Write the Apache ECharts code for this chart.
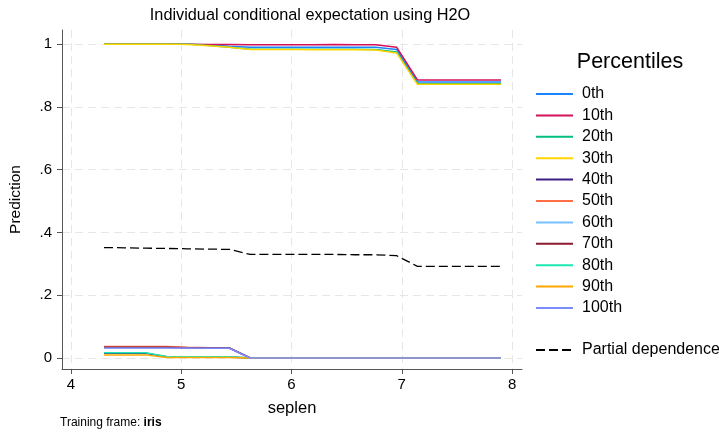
<!DOCTYPE html>
<html>
<head>
<meta charset="utf-8">
<script src="https://cdn.jsdelivr.net/npm/echarts@6/dist/echarts.min.js"></script>
<style>
  html, body { margin: 0; padding: 0; background: #fff; }
  #iceChart { width: 719px; height: 432px; }
</style>
</head>
<body>
<div id="iceChart"></div>
<script>
// grid of seplen values used by the ICE curves
const seplen = [4.3, 4.489, 4.679, 4.868, 5.058, 5.247, 5.437, 5.626, 5.816, 6.005,
  6.195, 6.384, 6.574, 6.763, 6.953, 7.142, 7.332, 7.521, 7.711, 7.9]

const percentileNames = ['0th', '10th', '20th', '30th', '40th', '50th', '60th', '70th', '80th', '90th', '100th']

const p0 = [1, 1, 1, 1, 1, 0.997, 0.993, 0.99, 0.99, 0.99, 0.99, 0.99, 0.99, 0.99, 0.983, 0.879, 0.879, 0.879, 0.879, 0.879]
const p10 = [1, 1, 1, 1, 1, 0.999, 0.999, 0.998, 0.998, 0.998, 0.998, 0.999, 0.998, 0.998, 0.99, 0.886, 0.886, 0.886, 0.886, 0.886]
const p20 = [1, 1, 1, 1, 1, 0.996, 0.99, 0.984, 0.984, 0.984, 0.984, 0.984, 0.984, 0.983, 0.975, 0.874, 0.874, 0.874, 0.874, 0.874]
const p30 = [1, 1, 1, 1, 0.999, 0.995, 0.99, 0.983, 0.983, 0.983, 0.982, 0.982, 0.982, 0.981, 0.972, 0.872, 0.872, 0.872, 0.872, 0.872]
const p40 = [0.015, 0.015, 0.015, 0.004, 0.003, 0.003, 0.003, 0, 0, 0, 0, 0, 0, 0, 0, 0, 0, 0, 0, 0]
const p50 = [0.037, 0.037, 0.037, 0.037, 0.034, 0.033, 0.032, 0, 0, 0, 0, 0, 0, 0, 0, 0, 0, 0, 0, 0]
const p60 = [0.033, 0.033, 0.033, 0.033, 0.033, 0.032, 0.032, 0, 0, 0, 0, 0, 0, 0, 0, 0, 0, 0, 0, 0]
const p70 = [0.034, 0.034, 0.034, 0.034, 0.033, 0.032, 0.032, 0, 0, 0, 0, 0, 0, 0, 0, 0, 0, 0, 0, 0]
const p80 = [0.017, 0.017, 0.017, 0.005, 0.004, 0.004, 0.004, 0, 0, 0, 0, 0, 0, 0, 0, 0, 0, 0, 0, 0]
const p90 = [0.01, 0.01, 0.01, 0.002, 0.002, 0.002, 0.002, 0, 0, 0, 0, 0, 0, 0, 0, 0, 0, 0, 0, 0]
const p100 = [0.032, 0.032, 0.032, 0.032, 0.032, 0.031, 0.031, 0, 0, 0, 0, 0, 0, 0, 0, 0, 0, 0, 0, 0]

const partialDep = [0.352, 0.351, 0.35, 0.349, 0.348, 0.347, 0.346, 0.33, 0.33, 0.33,
  0.33, 0.33, 0.329, 0.329, 0.326, 0.292, 0.292, 0.292, 0.292, 0.292]

const xTicks = [4, 5, 6, 7, 8]
const yTicks = [0, 0.2, 0.4, 0.6, 0.8, 1]

const iceValues = [p0, p10, p20, p30, p40, p50, p60, p70, p80, p90, p100]
const colors = ['#1a85ff', '#d41159', '#00bf7f', '#ffd400', '#3c1f86', '#ff6e47',
  '#78c0ff', '#8b1a2e', '#1ee8b2', '#ffa600', '#7b8cff']

const font = 'Liberation Sans, Arial, sans-serif'

let myChart = echarts.init(document.getElementById('iceChart'))

let series = iceValues.map((vals, i) => ({
  name: percentileNames[i],
  type: 'line',
  symbol: 'none',
  data: vals.map((v, j) => [seplen[j], v]),
  lineStyle: { width: 1.5, color: colors[i] },
  itemStyle: { color: colors[i] },
  z: 3
}))
series.push({
  name: 'Partial dependence',
  type: 'line',
  symbol: 'none',
  data: partialDep.map((v, j) => [seplen[j], v]),
  lineStyle: { width: 1.3, color: '#000', type: [9, 4] },
  itemStyle: { color: '#000' },
  z: 4
})

let gridLine = { show: true, lineStyle: { color: '#e6e6e6', width: 1, type: [8, 5] } }

let options = {
  animation: false,
  title: [
    {
      text: 'Individual conditional expectation using H2O',
      left: 310, top: 8, textAlign: 'center', padding: 0,
      textStyle: { fontFamily: font, fontSize: 16.3, fontWeight: 'normal', color: '#000' }
    },
    {
      text: 'Percentiles',
      left: 630, top: 51, textAlign: 'center', padding: 0,
      textStyle: { fontFamily: font, fontSize: 21.5, fontWeight: 'normal', color: '#000' }
    },
    {
      text: '{a|Training frame: }{b|iris}',
      left: 60, top: 417, padding: 0,
      textStyle: {
        fontWeight: 'normal',
        rich: {
          a: { fontFamily: font, fontSize: 12, color: '#000', fontWeight: 'normal' },
          b: { fontFamily: font, fontSize: 12, color: '#000', fontWeight: 'bold' }
        }
      }
    }
  ],
  legend: [
    {
      data: percentileNames,
      orient: 'vertical',
      left: 535, top: 86, padding: 0,
      itemWidth: 37, itemHeight: 14, itemGap: 5.4,
      itemStyle: { opacity: 0 },
      textStyle: { fontFamily: font, fontSize: 16, color: '#000', padding: [0, 0, 0, 4] }
    },
    {
      data: ['Partial dependence'],
      orient: 'vertical',
      left: 535, top: 342, padding: 0,
      itemWidth: 37, itemHeight: 14,
      itemStyle: { opacity: 0 },
      textStyle: { fontFamily: font, fontSize: 16, color: '#000', padding: [0, 0, 0, 4] }
    }
  ],
  grid: { left: 58, right: 197, top: 30, bottom: 63 },
  xAxis: {
    type: 'value',
    min: 3.919, max: 8.09,
    name: 'seplen',
    nameLocation: 'middle',
    nameGap: 31,
    nameTextStyle: { fontFamily: font, fontSize: 16.5, color: '#000' },
    axisLine: { show: true, onZero: false, lineStyle: { color: '#555', width: 1 } },
    axisTick: { show: true, length: 5, customValues: xTicks, lineStyle: { color: '#555' } },
    axisLabel: { customValues: xTicks, fontFamily: font, fontSize: 15, color: '#000', margin: 8 },
    splitLine: gridLine
  },
  yAxis: {
    type: 'value',
    min: -0.035, max: 1.045,
    name: 'Prediction',
    nameLocation: 'middle',
    nameGap: 38,
    nameTextStyle: { fontFamily: font, fontSize: 15.5, color: '#000' },
    axisLine: { show: true, onZero: false, lineStyle: { color: '#555', width: 1 } },
    axisTick: { show: true, length: 5, customValues: yTicks, lineStyle: { color: '#555' } },
    axisLabel: {
      customValues: yTicks,
      fontFamily: font, fontSize: 15, color: '#000', margin: 10,
      formatter: v => (v === 0 || v === 1) ? String(v) : String(v).replace(/^0/, '')
    },
    splitLine: gridLine
  },
  series: series
}
myChart.setOption(options)
</script>
</body>
</html>
